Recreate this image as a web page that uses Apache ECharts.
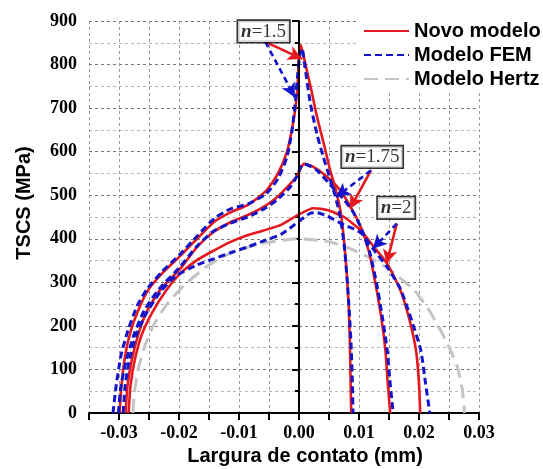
<!DOCTYPE html>
<html>
<head>
<meta charset="utf-8">
<script src="https://cdn.jsdelivr.net/npm/echarts@6/dist/echarts.min.js"></script>
<style>html,body{margin:0;padding:0;background:#fff}#c{width:543px;height:469px}</style>
</head>
<body>
<div id="c"></div>
<script>
// ---- data (x in mm, y in MPa) ----
var novo15 = [[-0.0299,0],[-0.0296,60],[-0.0290,130],[-0.0280,190],[-0.0265,245],[-0.0250,285],[-0.0225,325],[-0.0200,358],[-0.0170,400],[-0.0140,440],[-0.0115,460],[-0.0085,478],[-0.0055,510],[-0.0035,550],[-0.0020,600],[-0.0012,650],[-0.0006,700],[-0.0002,760],[0.0000,820],[0.0003,845],[0.0010,805],[0.0020,745],[0.0030,680],[0.0041,620],[0.0052,557],[0.0060,519],[0.0069,465],[0.0075,396],[0.0080,312],[0.0083,240],[0.0085,150],[0.0086,70],[0.0087,0]];
var fem15 = [[-0.0310,0],[-0.0305,60],[-0.0297,130],[-0.0285,190],[-0.0270,245],[-0.0253,285],[-0.0228,325],[-0.0200,362],[-0.0170,406],[-0.0140,448],[-0.0115,468],[-0.0085,480],[-0.0055,503],[-0.0035,538],[-0.0020,588],[-0.0012,645],[-0.0006,715],[-0.0002,780],[0.0002,828],[0.0005,837],[0.0010,794],[0.0019,710],[0.0030,640],[0.0040,590],[0.0050,545],[0.0060,500],[0.0068,455],[0.0075,390],[0.0080,310],[0.0084,230],[0.0087,150],[0.0089,70],[0.0090,0]];
var novo175 = [[-0.0289,0],[-0.0286,60],[-0.0279,120],[-0.0268,180],[-0.0253,235],[-0.0230,285],[-0.0198,331],[-0.0170,381],[-0.0142,416],[-0.0114,438],[-0.0086,454],[-0.0059,473],[-0.0036,496],[-0.0014,527],[-0.0003,545],[0.0003,562],[0.0008,572],[0.0024,565],[0.0047,542],[0.0069,511],[0.0086,473],[0.0103,427],[0.0116,373],[0.0127,300],[0.0137,220],[0.0144,144],[0.0148,67],[0.0152,0]];
var fem175 = [[-0.0301,0],[-0.0297,60],[-0.0288,120],[-0.0275,180],[-0.0258,235],[-0.0233,285],[-0.0200,333],[-0.0170,383],[-0.0142,418],[-0.0114,436],[-0.0086,450],[-0.0059,468],[-0.0036,490],[-0.0014,520],[-0.0003,545],[0.0003,565],[0.0009,572],[0.0030,557],[0.0058,515],[0.0075,490],[0.0090,462],[0.0105,420],[0.0118,368],[0.0129,300],[0.0139,220],[0.0147,144],[0.0152,67],[0.0157,0]];
var novo2 = [[-0.0284,0],[-0.0281,60],[-0.0274,120],[-0.0262,180],[-0.0245,230],[-0.0222,280],[-0.0198,320],[-0.0170,351],[-0.0142,373],[-0.0114,393],[-0.0086,408],[-0.0059,419],[-0.0030,432],[0.0000,456],[0.0024,470],[0.0047,466],[0.0075,450],[0.0103,419],[0.0125,381],[0.0147,343],[0.0169,282],[0.0183,220],[0.0195,144],[0.0200,67],[0.0202,0]];
var fem2 = [[-0.0293,0],[-0.0290,60],[-0.0283,120],[-0.0271,180],[-0.0254,230],[-0.0230,280],[-0.0205,315],[-0.0170,340],[-0.0142,354],[-0.0114,368],[-0.0086,381],[-0.0059,395],[-0.0030,410],[0.0000,440],[0.0018,458],[0.0030,460],[0.0047,452],[0.0075,432],[0.0103,414],[0.0125,374],[0.0147,335],[0.0169,285],[0.0186,220],[0.0203,144],[0.0211,67],[0.0218,0]];
var hertz = [[-0.0277,0],[-0.0274,50],[-0.0268,100],[-0.0258,150],[-0.0243,200],[-0.0220,250],[-0.0190,295],[-0.0150,340],[-0.0110,370],[-0.0059,390],[0.0000,400],[0.0050,393],[0.0086,377],[0.0120,355],[0.0150,330],[0.0191,283],[0.0215,240],[0.0236,190],[0.0252,145],[0.0264,106],[0.0272,55],[0.0276,0]];
var legendNames = ['Novo modelo','Modelo FEM','Modelo Hertz'];
var annoText = ['1.5','1.75','2'];
var annoAt = [[-0.0059,876],[0.0122,588],[0.0162,471]];
var arrowFrom = [[-0.0056,852],[0.0120,557],[0.0163,435]];
var redTip = [[0.0005,813],[0.0085,469],[0.0146,343]];
var blueTip = [[-0.0007,725],[0.0062,496],[0.0123,377]];
var xTicks = {min:-0.035,max:0.03,step:0.005};
var yTicks = {min:0,max:900,step:100};

var RED = '#e4181e', BLUE = '#1414c8', GRAY = '#c4c4c4';
var serif = "'Liberation Serif','Times New Roman',serif";
var sans = "'Liberation Sans',Arial,sans-serif";

function lineSeries(name, data, kind){
  var ls;
  if (kind==='red') ls = {color:RED,width:2.6,type:'solid'};
  else if (kind==='blue') ls = {color:BLUE,width:3,type:[7,4]};
  else ls = {color:GRAY,width:3,type:[14,7]};
  return {type:'line',name:name,data:data,showSymbol:false,symbol:'none',smooth:0.2,
    lineStyle:ls,itemStyle:{color:ls.color},silent:true,animation:false,z:kind==='blue'?4:(kind==='red'?3:2)};
}
function arrows(tips, color, dashed){
  return {silent:true,symbol:['none','arrow'],symbolSize:[11,14],label:{show:false},
    lineStyle:{color:color,width:2.6,type:dashed?[6,4]:'solid'},
    data:tips.map(function(t,i){return [{coord:arrowFrom[i]},{coord:t}];})};
}

var series = [];
var sH = lineSeries('Modelo Hertz', hertz, 'gray');
sH.markLine = {silent:true,symbol:'none',label:{show:false},lineStyle:{color:'#000',width:1.6,type:'solid'},data:[{xAxis:0}]};
series.push(sH);
var r1 = lineSeries('Novo modelo', novo15, 'red'); r1.markLine = arrows(redTip, RED, false);
series.push(r1, lineSeries('Novo modelo', novo175, 'red'), lineSeries('Novo modelo', novo2, 'red'));
var b1 = lineSeries('Modelo FEM', fem15, 'blue'); b1.markLine = arrows(blueTip, BLUE, true);
series.push(b1, lineSeries('Modelo FEM', fem175, 'blue'), lineSeries('Modelo FEM', fem2, 'blue'));
series.push({type:'scatter',name:'anno',symbolSize:0,silent:true,z:6,
  data:annoAt.map(function(p,i){return {value:p,label:{formatter:'{i|n}{r|='+annoText[i]+'}'}};}),
  label:{show:true,position:'inside',backgroundColor:'#fff',borderColor:'#000',borderWidth:1.6,padding:[1,3,0,3],
    rich:{i:{fontFamily:serif,fontStyle:'italic',fontWeight:'bold',fontSize:19,color:'#000',lineHeight:20},
          r:{fontFamily:serif,fontSize:19,color:'#000',lineHeight:20}}}});

var chart = echarts.init(document.getElementById('c'), null, {renderer:'canvas'});
chart.setOption({
  animation:false,
  backgroundColor:'#fff',
  grid:{left:89,right:64,top:21,bottom:56,containLabel:false,outerBoundsMode:'none'},
  legend:{data:legendNames,orient:'vertical',left:358,top:17,backgroundColor:'#fff',padding:[4,0,4,5],
    itemWidth:45,itemHeight:14,itemGap:4,selectedMode:false,
    itemStyle:{opacity:0,borderWidth:0},
    textStyle:{fontFamily:sans,fontWeight:'bold',fontSize:20,color:'#000'}},
  xAxis:{type:'value',min:xTicks.min,max:xTicks.max,interval:xTicks.step,
    name:'Largura de contato (mm)',nameLocation:'middle',nameGap:33,
    nameTextStyle:{fontFamily:sans,fontWeight:'bold',fontSize:20,color:'#000',padding:[0,0,0,42]},
    axisLine:{onZero:false,lineStyle:{color:'#000',width:2}},
    axisTick:{inside:false,length:7,lineStyle:{width:2,color:'#000'}},
    axisLabel:{margin:11,fontFamily:serif,fontWeight:'bold',fontSize:18,color:'#000',
      formatter:function(v){var k=Math.round(v*1000);if(k%10!==0)return '';return (k/1000).toFixed(2);}},
    splitLine:{show:true,lineStyle:{color:'#9a9a9a',width:1,type:[3,3]}}},
  yAxis:{type:'value',min:yTicks.min,max:yTicks.max,interval:yTicks.step,
    name:'TSCS (MPa)',nameLocation:'middle',nameGap:55,
    nameTextStyle:{fontFamily:sans,fontWeight:'bold',fontSize:20,color:'#000',padding:[0,0,0,28]},
    axisLine:{show:true,lineStyle:{color:'#000',width:2}},
    axisTick:{show:true,inside:false,length:7,lineStyle:{width:2,color:'#000'}},
    minorTick:{show:true,splitNumber:2,length:4,lineStyle:{width:2,color:'#000'}},
    axisLabel:{margin:12,fontFamily:serif,fontWeight:'bold',fontSize:18,color:'#000'},
    splitLine:{show:true,lineStyle:{color:'#777',width:1,type:[3,3]}},
    minorSplitLine:{show:true,lineStyle:{color:'#b5b5b5',width:1,type:[3,3]}}},
  series:series
});
</script>
</body>
</html>
